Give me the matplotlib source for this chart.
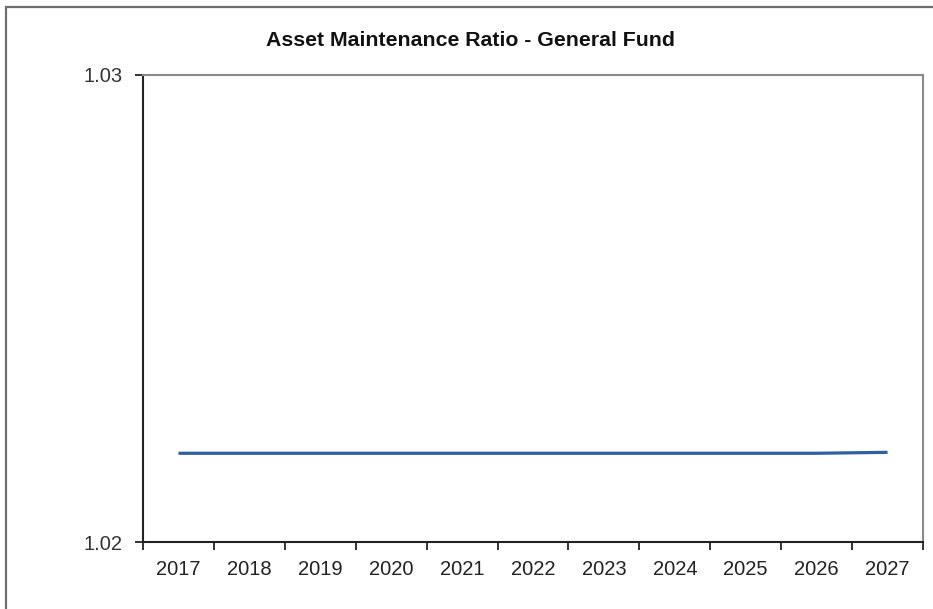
import matplotlib
matplotlib.use("Agg")
import matplotlib.pyplot as plt
from matplotlib.patches import Rectangle
from matplotlib.ticker import FixedLocator, NullFormatter

years = ["2017", "2018", "2019", "2020", "2021", "2022", "2023", "2024", "2025", "2026", "2027"]
ratio = [1.0219, 1.0219, 1.0219, 1.0219, 1.0219, 1.0219, 1.0219, 1.0219, 1.0219, 1.0219, 1.02192]
y_ticks = [1.02, 1.03]

plt.rcParams["font.family"] = ["Liberation Sans", "DejaVu Sans"]

W, H = 933, 609
fig = plt.figure(figsize=(W / 100, H / 100), dpi=100)

# outer chart border (only left and top edges fall inside the image)
fig.patches.append(Rectangle((6 / W, -0.1), 1.2, 1.1 - 7 / H, transform=fig.transFigure,
                             fill=False, edgecolor="#6f6f6f", linewidth=1.6))

ax = fig.add_axes([143 / W, 1 - 542 / H, 780 / W, 467 / H])
x = range(len(years))
ax.plot(x, ratio, color="#2f5fa3", linewidth=2.3, solid_capstyle="butt")

ax.set_xlim(-0.5, len(years) - 0.5)
ax.set_ylim(1.02, 1.03)
ax.set_yticks(y_ticks)
ax.set_yticklabels([f"{v:.2f}" for v in y_ticks])

# category boundaries get tick marks, labels sit in the middle
ax.xaxis.set_major_locator(FixedLocator([i - 0.5 for i in range(len(years) + 1)]))
ax.xaxis.set_major_formatter(NullFormatter())
ax.xaxis.set_minor_locator(FixedLocator(list(x)))
ax.set_xticklabels(years, minor=True)
ax.tick_params(axis="x", which="major", direction="out", length=6, width=1.3, color="#222222")
ax.tick_params(axis="x", which="minor", length=0, pad=13, labelsize=14.5, labelcolor="#222222")
ax.tick_params(axis="y", direction="out", length=6, width=1.3, color="#222222",
               pad=9, labelsize=14.5, labelcolor="#333333")

for side in ["left", "bottom"]:
    ax.spines[side].set_color("#222222")
    ax.spines[side].set_linewidth(1.5)
for side in ["top", "right"]:
    ax.spines[side].set_color("#8a8a8a")
    ax.spines[side].set_linewidth(1.5)

fig.text(471 / W, 1 - 41 / H, "Asset Maintenance Ratio - General Fund", ha="center", va="center",
         fontsize=15.3, fontweight="bold", color="#111111")

fig.savefig("out.png", dpi=100)
